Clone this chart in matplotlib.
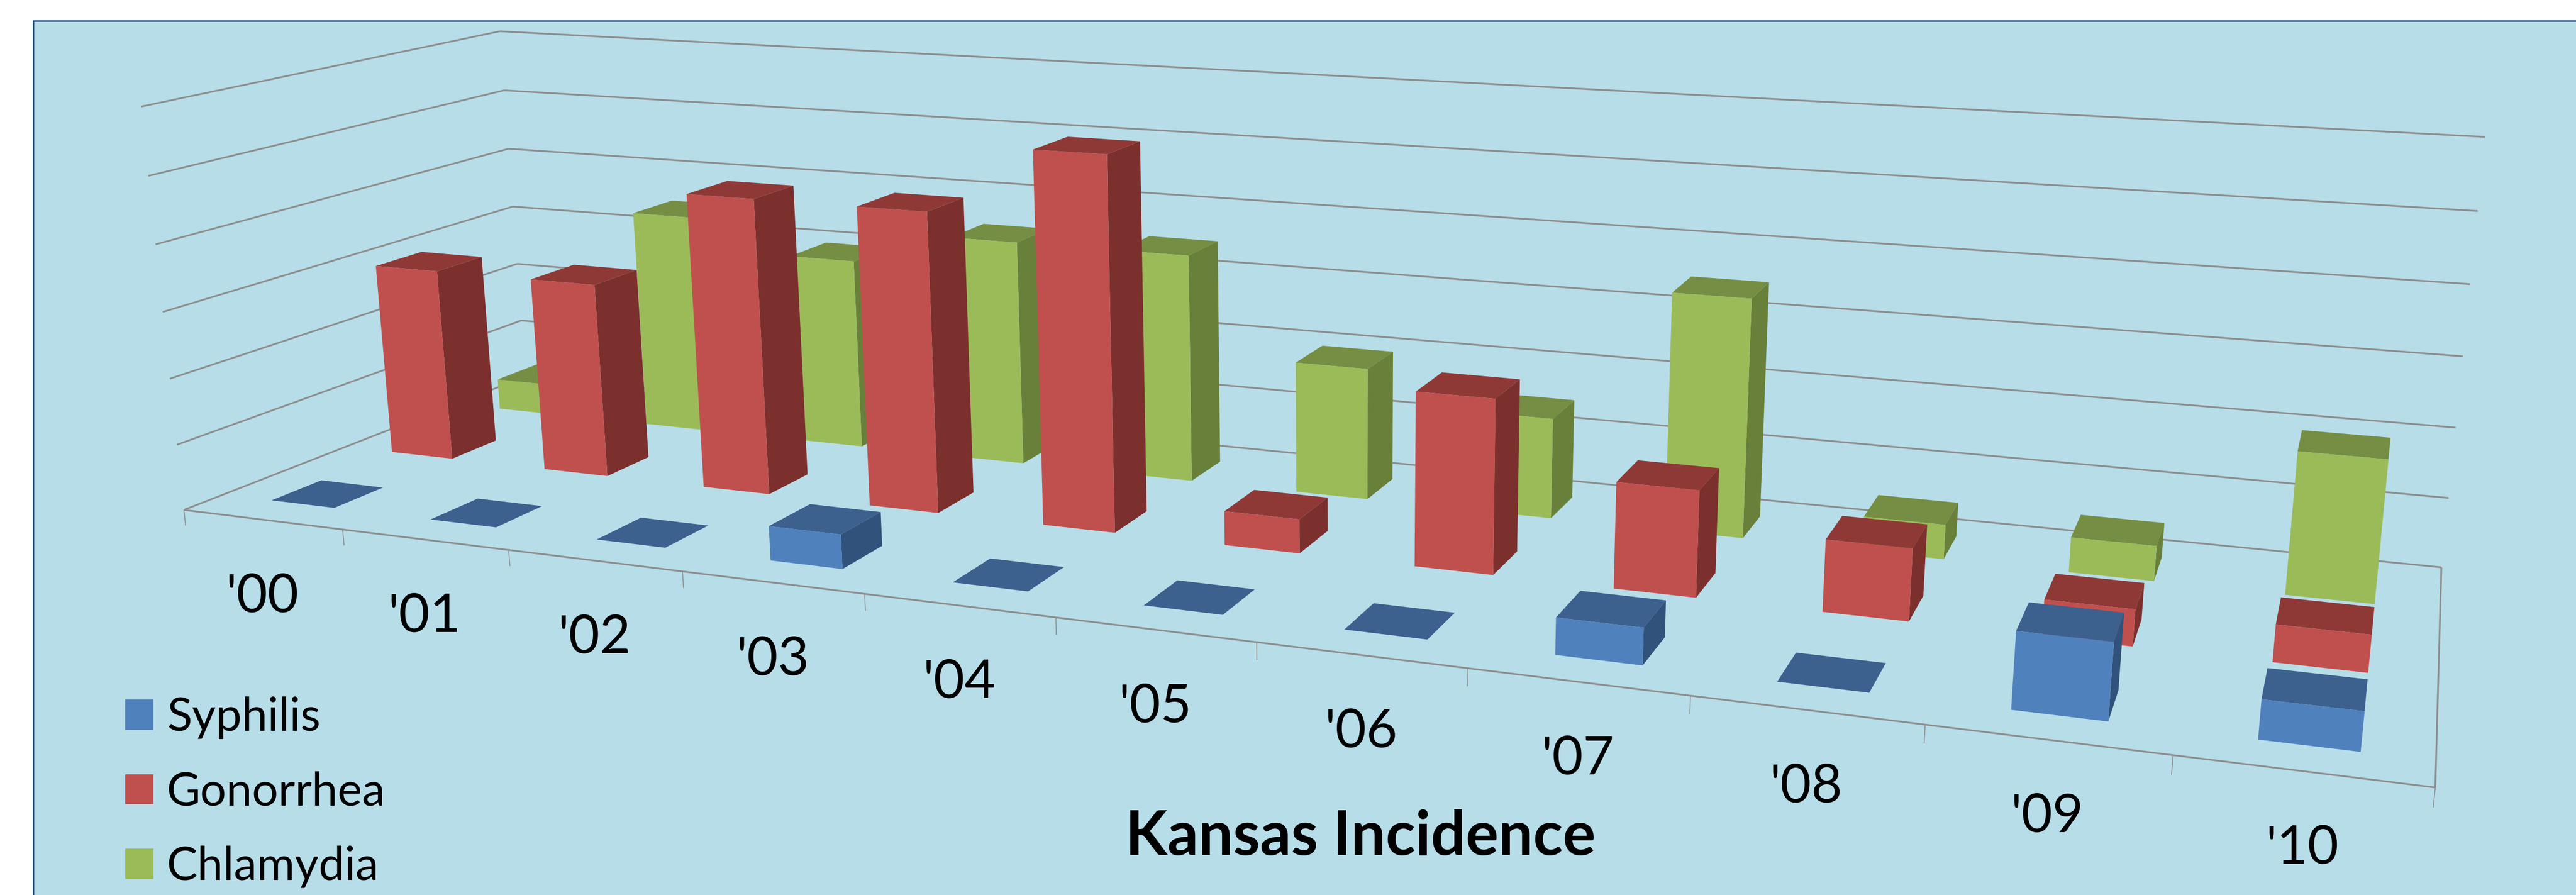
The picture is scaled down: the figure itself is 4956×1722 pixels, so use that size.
import matplotlib
matplotlib.use('Agg')
import matplotlib.pyplot as plt
import numpy as np
from matplotlib.patches import Patch, Rectangle
from mpl_toolkits.mplot3d import proj3d
from mpl_toolkits.mplot3d.art3d import Line3DCollection

W, H = 4956, 1722

years = ["'00", "'01", "'02", "'03", "'04", "'05", "'06", "'07", "'08", "'09", "'10"]
series = ['Syphilis', 'Gonorrhea', 'Chlamydia']

# heights in gridline steps
syphilis = [0, 0, 0, 0.5, 0, 0, 0, 0.5, 0, 1, 0.5]
gonorrhea = [3, 3, 4.5, 4.5, 5.5, 0.5, 2.5, 1.5, 1, 0.5, 0.5]
chlamydia = [0.5, 3.5, 3, 3.5, 3.5, 2, 1.5, 3.5, 0.5, 0.5, 2]

# front, top, side shades per series
shades = [('#4F81BD', '#3C618F', '#31527A'),
          ('#C0504D', '#8F3937', '#7B302E'),
          ('#9BBB59', '#758E43', '#69803A')]

GRID = '#8E8E8E'
levels = 6
bar_w = 0.4
bar_gap = 0.3

# camera: box corners and front-edge ticks (x, y, z) and where they land in pixels
box_pts = np.array([(0, 0, 0), (11, 0, 0), (11, 3, 0), (0, 3, 0),
                    (0, 0, 6), (0, 3, 6), (11, 3, 6),
                    (1, 0, 0), (5, 0, 0), (8, 0, 0), (10, 0, 0)], float)
pix_pts = np.array([(354, 983), (4692, 1513), (4697, 1092), (1011, 724),
                    (271, 205), (962, 59), (4781, 265),
                    (659, 1019), (2033, 1188), (3251, 1338), (4174, 1453)], float)


def fit_camera(pts, pix):
    # least squares for a 3x4 projective matrix, last entry fixed to 1
    A, b = [], []
    for (x, y, z), (u, v) in zip(pts, pix):
        A.append([x, y, z, 1, 0, 0, 0, 0, -u * x, -u * y, -u * z])
        A.append([0, 0, 0, 0, x, y, z, 1, -v * x, -v * y, -v * z])
        b += [u, v]
    p = np.linalg.lstsq(np.array(A), np.array(b), rcond=None)[0]
    M = np.eye(4)
    M[0] = p[:4]
    M[1] = p[4:8]
    M[3] = [p[8], p[9], p[10], 1]
    # third row only has to grow with distance from the camera
    M[2] = M[3]
    M[2, 3] -= 0.5
    return M


M = fit_camera(box_pts, pix_pts)

fig = plt.figure(figsize=(W / 100, H / 100), dpi=100, facecolor='white')
fig.add_artist(Rectangle((64 / W, -0.1), 1, 1.1 - 40 / H, transform=fig.transFigure,
                         facecolor='#B7DDE8', edgecolor='#1F497D', lw=2, zorder=-1))

ax = fig.add_axes([0, 0, 1, 1], projection='3d', computed_zorder=False)
ax.set_axis_off()
ax.patch.set_visible(False)
ax.get_proj = lambda: M
ax.apply_aspect = lambda position=None: None

# walls and floor
grid_segs = []
for z in range(1, levels + 1):
    grid_segs.append([(0, 0, z), (0, 3, z)])
    grid_segs.append([(0, 3, z), (11, 3, z)])
grid_segs += [[(0, 3, 0), (0, 0, 0)], [(0, 0, 0), (11, 0, 0)],
              [(11, 0, 0), (11, 3, 0)], [(11, 3, 0), (0, 3, 0)]]
ax.add_collection3d(Line3DCollection(grid_segs, colors=GRID, linewidths=2.4, zorder=1), autolim=False)
tick_segs = [[(i, 0, 0), (i, 0, -0.24)] for i in range(12)]
ax.add_collection3d(Line3DCollection(tick_segs, colors=GRID, linewidths=1.2, zorder=1), autolim=False)

# bars, drawn back to front
data = [syphilis, gonorrhea, chlamydia]
for s in [2, 1, 0]:
    front, top, side = shades[s]
    none = (0, 0, 0, 0)
    for i, val in enumerate(data[s]):
        # face order in bar3d: bottom, top, front, back, left, right
        cols = [none, top, front, none, none, side]
        ax.bar3d([i + bar_gap + 0.012], [s + bar_gap], [0], bar_w, bar_w, val, color=cols,
                 shade=False, linewidth=0, zorder=10 + (2 - s) * 20 + i)

ax.viewLim.intervalx = (0, W)
ax.viewLim.intervaly = (H, 0)

for i, lab in enumerate(years):
    u, v, _ = proj3d.proj_transform(i + 0.5, 0, 0, M)
    ax.annotate(lab, xy=(u, v), xytext=(0, -107), textcoords='offset points',
                ha='center', va='center', fontsize=74, family='Lato', color='black')

fig.text(2617 / W, 1 - 1611 / H, 'Kansas Incidence', ha='center', va='center',
         fontsize=85, fontweight='bold', family='Lato', color='black')

handles = [Patch(color=shades[k][0], label=series[k]) for k in range(3)]
fig.legend(handles=handles, loc='upper left', bbox_to_anchor=(241 / W, 1 - 1340 / H),
           frameon=False, borderpad=0, borderaxespad=0, handlelength=0.6, handleheight=0.6,
           handletextpad=0.3, labelspacing=0.69, prop={'family': 'Lato', 'size': 64})

fig.savefig('out.png', dpi=100)
